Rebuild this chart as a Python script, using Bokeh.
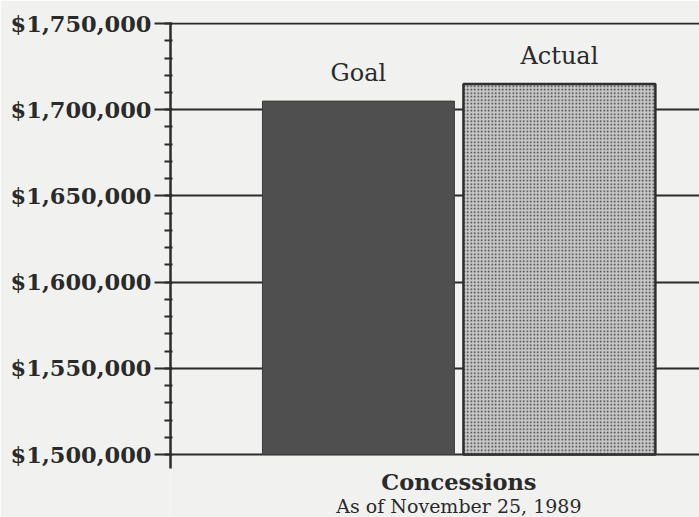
from bokeh.plotting import figure
from bokeh.models import Range1d, SingleIntervalTicker, NumeralTickFormatter, Label, ColumnDataSource
from bokeh.core.properties import value
from bokeh.embed import file_html
from bokeh.resources import INLINE

categories = ["Goal", "Actual"]
amounts = [1705000, 1715000]
baseline = 1500000
tick_step = 50000
title_main = "Concessions"
title_sub = "As of November 25, 1989"

BG = "#f1f1ef"
INK = "#2b2b2b"
SERIF = "DejaVu Serif"

Y_TOP = 1750600
Y_AXIS_LOW = 1491900
Y_FRAME_LOW = 1463480

p = figure(width=699, height=517, output_backend="svg", toolbar_location=None,
           x_range=Range1d(-0.935, 1.697), y_range=Range1d(Y_FRAME_LOW, Y_TOP),
           min_border_left=170, min_border_right=0, min_border_top=22, min_border_bottom=0)
p.background_fill_color = BG
p.border_fill_color = BG
p.outline_line_color = None
p.xaxis.visible = False
p.xgrid.visible = False

xs = list(range(len(categories)))
src_goal = ColumnDataSource(dict(x=xs[:1], top=amounts[:1], label=categories[:1]))
src_act = ColumnDataSource(dict(x=xs[1:], top=amounts[1:], label=categories[1:]))

p.vbar(x="x", top="top", bottom=baseline, width=0.955, source=src_goal,
       fill_color="#4f4f4f", line_color="#3c3c3c", line_width=1)
p.vbar(x="x", top="top", bottom=baseline, width=0.955, source=src_act,
       fill_color="#c8c8c8", hatch_pattern="dot", hatch_color="#333333",
       hatch_scale=3.5, hatch_weight=2.2, line_color="#2e2e2e", line_width=2.5)

src_lab = ColumnDataSource(dict(x=xs, y=amounts, label=categories))
p.text(x="x", y="y", text="label", source=src_lab, text_align="center",
       text_baseline="bottom", y_offset=-14, text_font=value(SERIF),
       text_font_size="24px", text_color="#2a2a2a")

ax = p.yaxis[0]
ax.ticker = SingleIntervalTicker(interval=tick_step, num_minor_ticks=5)
ax.formatter = NumeralTickFormatter(format="$0,0")
ax.bounds = (Y_AXIS_LOW, Y_TOP)
ax.axis_line_color = INK
ax.axis_line_width = 2.5
ax.major_tick_line_color = INK
ax.major_tick_line_width = 2
ax.major_tick_out = 16
ax.major_tick_in = 0
ax.minor_tick_line_color = INK
ax.minor_tick_line_width = 2
ax.minor_tick_out = 6
ax.minor_tick_in = 2
ax.major_label_standoff = 3
ax.major_label_text_font = SERIF
ax.major_label_text_font_style = "bold"
ax.major_label_text_font_size = "22.5px"
ax.major_label_text_color = "#2a2a2a"

p.ygrid.ticker = ax.ticker
p.ygrid.bounds = (baseline, Y_TOP)
p.ygrid.grid_line_color = INK
p.ygrid.grid_line_width = 2
p.ygrid.grid_line_alpha = 1

mid = sum(xs) / len(xs)
p.add_layout(Label(x=mid, y=36, x_units="data", y_units="screen", text=title_main,
                   text_align="center", text_baseline="middle", text_font=SERIF,
                   text_font_style="bold", text_font_size="22.5px", text_color="#2a2a2a"))
p.add_layout(Label(x=mid, y=12, x_units="data", y_units="screen", text=title_sub,
                   text_align="center", text_baseline="middle", text_font=SERIF,
                   text_font_size="19px", text_color="#2a2a2a"))

open("out.html", "w").write(file_html(p, INLINE))
